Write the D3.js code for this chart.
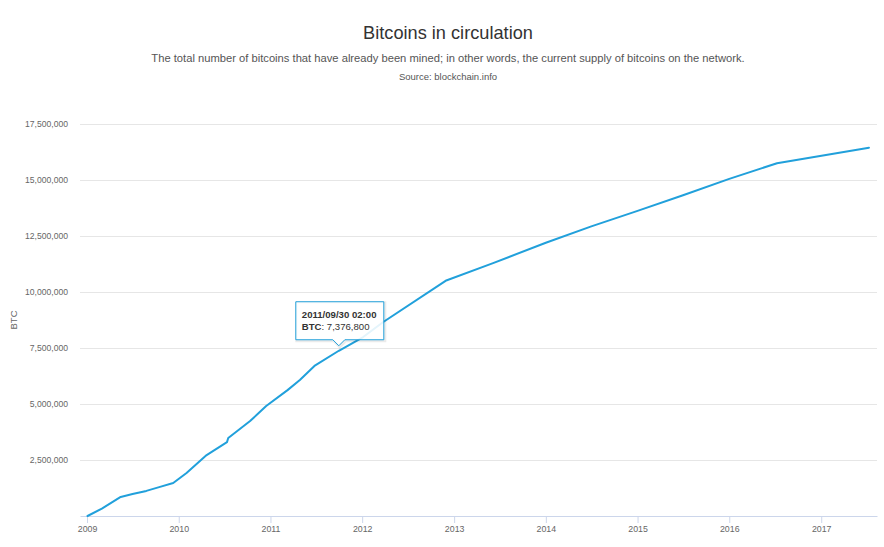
<!DOCTYPE html>
<html>
<head>
<meta charset="utf-8">
<script src="https://cdn.jsdelivr.net/npm/d3@7"></script>
<style>
  body { margin: 0; background: #fff; font-family: "Liberation Sans", Arial, Helvetica, sans-serif; }
  #chart { width: 884px; height: 547px; }
</style>
</head>
<body>
<div id="chart"></div>
<script>
// Bitcoins in circulation
const dates = [
  '2009-01-03','2009-03-01','2009-05-15','2009-07-01','2009-08-25','2009-10-15','2009-12-10',
  '2010-02-01','2010-04-22','2010-07-12','2010-07-17','2010-10-12','2010-12-15',
  '2011-03-10','2011-04-28','2011-06-25','2011-09-30','2012-01-05','2012-03-25',
  '2012-11-28','2013-06-05','2014-01-01','2014-07-01','2015-01-01','2015-07-01',
  '2016-01-01','2016-07-09','2017-07-10'
];
const btc = [
  0, 330000, 850000, 980000, 1120000, 1290000, 1470000,
  1920000, 2720000, 3300000, 3480000, 4240000, 4910000,
  5620000, 6070000, 6700000, 7376800, 7990000, 8660000,
  10500000, 11290000, 12200000, 12930000, 13620000, 14320000,
  15050000, 15750000, 16440000
];
const yearTicks = [2009, 2010, 2011, 2012, 2013, 2014, 2015, 2016, 2017];
const btcTicks = [2500000, 5000000, 7500000, 10000000, 12500000, 15000000, 17500000];
const tipIndex = 16; // 2011/09/30

const data = dates.map((d, i) => ({ date: new Date(d + 'T00:00:00Z'), v: btc[i] }));

const W = 884, H = 547;
const margin = { top: 124, right: 7, bottom: 31, left: 80 };
const svg = d3.select('#chart').append('svg').attr('width', W).attr('height', H);

const x = d3.scaleUtc()
  .domain([new Date('2008-12-04T00:00:00Z'), new Date('2017-08-11T00:00:00Z')])
  .range([margin.left, W - margin.right]);
const y = d3.scaleLinear().domain([0, 17500000]).range([H - margin.bottom, margin.top]);

// titles
svg.append('text').attr('x', 448).attr('y', 39).attr('text-anchor', 'middle')
  .attr('font-size', 18.2).attr('fill', '#333').text('Bitcoins in circulation');
svg.append('text').attr('x', 448).attr('y', 62).attr('text-anchor', 'middle')
  .attr('font-size', 11.2).attr('fill', '#555')
  .text('The total number of bitcoins that have already been mined; in other words, the current supply of bitcoins on the network.');
svg.append('text').attr('x', 448).attr('y', 80).attr('text-anchor', 'middle')
  .attr('font-size', 9.5).attr('fill', '#555').text('Source: blockchain.info');

// grid + y axis
const yAxis = svg.append('g').attr('transform', `translate(${margin.left},0)`)
  .call(d3.axisLeft(y).tickValues(btcTicks).tickSize(-(W - margin.left - margin.right)).tickPadding(12)
    .tickFormat(d3.format(',')));
yAxis.select('.domain').remove();
yAxis.selectAll('.tick line').attr('stroke', '#e6e6e6');
yAxis.selectAll('.tick text').attr('fill', '#666').attr('font-size', 8.6)
  .attr('font-family', '"Liberation Sans", Arial, sans-serif');

svg.append('text').attr('transform', `translate(17,${(margin.top + H - margin.bottom) / 2}) rotate(-90)`)
  .attr('text-anchor', 'middle').attr('font-size', 9.5).attr('fill', '#666').text('BTC');

// x axis
const xAxis = svg.append('g').attr('transform', `translate(0,${H - margin.bottom})`)
  .call(d3.axisBottom(x).tickValues(yearTicks.map(yr => new Date(Date.UTC(yr, 0, 1))))
    .tickSize(7).tickSizeOuter(0).tickPadding(3).tickFormat(d3.utcFormat('%Y')));
xAxis.select('.domain').attr('stroke', '#ccd6eb');
xAxis.selectAll('.tick line').attr('stroke', '#ccd6eb');
xAxis.selectAll('.tick text').attr('fill', '#666').attr('font-size', 8.8)
  .attr('font-family', '"Liberation Sans", Arial, sans-serif');

// line
const line = d3.line().x(d => x(d.date)).y(d => y(d.v));
svg.append('path').datum(data).attr('d', line)
  .attr('fill', 'none').attr('stroke', '#21a0db').attr('stroke-width', 2)
  .attr('stroke-linejoin', 'round').attr('stroke-linecap', 'round');

// tooltip
const p = data[tipIndex];
const px = x(p.date), py = y(p.v);
const bx = px - 43, by = py - 49, bw = 88, bh = 38;
const tip = svg.append('g');
const tipPath = `M${bx},${by}H${bx + bw}V${by + bh}H${px + 6}L${px},${by + bh + 6}L${px - 6},${by + bh}H${bx}Z`;
tip.append('path').attr('d', tipPath).attr('transform', 'translate(1,1)')
  .attr('fill', 'none').attr('stroke', 'rgba(0,0,0,0.08)').attr('stroke-width', 3);
tip.append('path').attr('d', tipPath)
  .attr('fill', 'rgba(255,255,255,0.88)').attr('stroke', '#21a0db').attr('stroke-width', 1);
tip.append('text').attr('x', bx + 6).attr('y', by + 16).attr('font-size', 9.6).attr('font-weight', 'bold')
  .attr('fill', '#333').text(d3.utcFormat('%Y/%m/%d')(p.date) + ' 02:00');
const t2 = tip.append('text').attr('x', bx + 6).attr('y', by + 28).attr('font-size', 9.6).attr('fill', '#333');
t2.append('tspan').attr('font-weight', 'bold').text('BTC');
t2.append('tspan').text(': ' + d3.format(',')(p.v));
</script>
</body>
</html>
